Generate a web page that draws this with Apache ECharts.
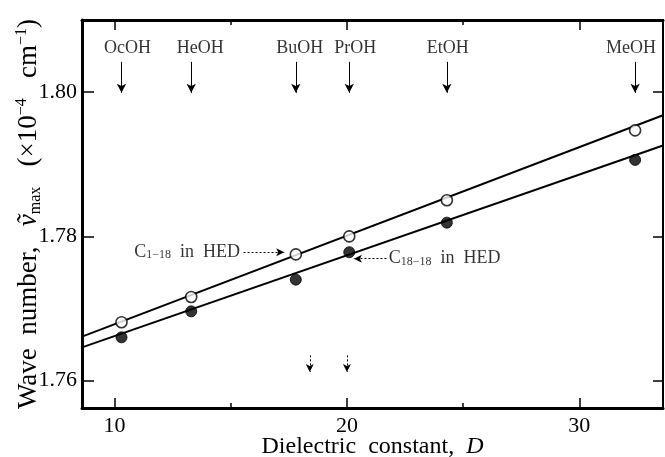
<!DOCTYPE html>
<html>
<head>
<meta charset="utf-8">
<script src="https://cdn.jsdelivr.net/npm/echarts@6/dist/echarts.min.js"></script>
<style>html,body{margin:0;padding:0;background:#fff;}#c{width:665px;height:457px;}</style>
</head>
<body>
<div id="c"></div>
<script>
// ---- data ----
const solvents = ['OcOH', 'HeOH', 'BuOH', 'PrOH', 'EtOH', 'MeOH'];
const dielectric = [10.3, 13.3, 17.8, 20.1, 24.3, 32.4];
const c1_18 = [1.7681, 1.7716, 1.7775, 1.7800, 1.7850, 1.7947];   // open circles
const c18_18 = [1.7660, 1.7696, 1.7740, 1.7778, 1.7819, 1.7906];  // filled circles
const fitC1_18 = [[8.6, 1.7661], [33.6, 1.7968]];
const fitC18_18 = [[8.6, 1.7646], [33.6, 1.7926]];
const xMajorTicks = [10, 20, 30];
const xMinorTicks = [15, 25];
const yTicks = [1.76, 1.78, 1.80];
const lowerArrowsD = [18.4, 20.0];
const xRange = [8.6, 33.6];
const yRange = [1.7562, 1.8100];

const FONT = 'Liberation Serif';
const chart = echarts.init(document.getElementById('c'), null, {renderer: 'canvas'});

function xAxisDef(pos, ticks, len, showLabel, lineW) {
  return {
    type: 'value', position: pos, min: xRange[0], max: xRange[1],
    splitLine: {show: false},
    axisLine: {show: lineW > 0, onZero: false, lineStyle: {color: '#000', width: lineW}},
    axisTick: {show: true, inside: true, length: len, customValues: ticks, lineStyle: {color: '#000', width: 1.5}},
    axisLabel: {show: showLabel, customValues: ticks, color: '#000', fontFamily: FONT, fontSize: 22, margin: 7},
  };
}
function yAxisDef(pos, len, showLabel, lineW) {
  return {
    type: 'value', position: pos, min: yRange[0], max: yRange[1],
    splitLine: {show: false},
    axisLine: {show: true, onZero: false, lineStyle: {color: '#000', width: lineW}},
    axisTick: {show: true, inside: true, length: len, customValues: yTicks, lineStyle: {color: '#000', width: 1.5}},
    axisLabel: {show: showLabel, customValues: yTicks, color: '#000', fontFamily: FONT, fontSize: 22, margin: 5,
      formatter: v => v.toFixed(2)},
  };
}

const xAxes = [
  xAxisDef('bottom', xMajorTicks, 10, true, 3),
  xAxisDef('bottom', xMinorTicks, 5, false, 0),
  xAxisDef('top', xMajorTicks, 10, false, 3),
  xAxisDef('top', xMinorTicks, 5, false, 0),
];
xAxes[0].name = '{a|Dielectric  constant,  }{i|D}';
xAxes[0].nameLocation = 'middle';
xAxes[0].nameGap = 27;
xAxes[0].nameMoveOverlap = false;
xAxes[0].nameTextStyle = {rich: {
  a: {fontFamily: FONT, fontSize: 24, color: '#000'},
  i: {fontFamily: FONT, fontSize: 24, fontStyle: 'italic', color: '#000'}
}};

const yAxes = [yAxisDef('left', 12, true, 3), yAxisDef('right', 10, false, 2)];
yAxes[0].name = '{a|Wave  number,   }{i|ṽ}{sub|max}{a|   (×10}{sup|−4}{a|   cm}{sup|−1}{a|)}';
yAxes[0].nameLocation = 'middle';
yAxes[0].nameRotate = 90;
yAxes[0].nameGap = 38;
yAxes[0].nameMoveOverlap = false;
yAxes[0].nameTextStyle = {rich: {
  a: {fontFamily: FONT, fontSize: 27, color: '#000', lineHeight: 30},
  i: {fontFamily: FONT, fontSize: 27, fontStyle: 'italic', color: '#000', lineHeight: 30},
  sub: {fontFamily: FONT, fontSize: 16, color: '#000', lineHeight: 14, verticalAlign: 'bottom'},
  sup: {fontFamily: FONT, fontSize: 16, color: '#000', lineHeight: 14, verticalAlign: 'top'}
}};

const textRich = {
  a: {fontFamily: FONT, fontSize: 18, color: '#000'},
  s: {fontFamily: FONT, fontSize: 12, color: '#000', verticalAlign: 'bottom', lineHeight: 12},
};

const solventArrows = dielectric.map(d => [
  {coord: [d, 1.8042]}, {coord: [d, 1.7999]}
]);
const lowerArrows = lowerArrowsD.map(d => [
  {coord: [d, 1.7635]}, {coord: [d, 1.7612]}
]);
const solventLabelShift = [6, 9, 4, 6, 1, -4];

chart.setOption({
  animation: false,
  backgroundColor: '#fff',
  grid: {left: 82, right: 2, top: 20, bottom: 49, show: true, borderColor: '#000', borderWidth: 2,
         outerBoundsMode: 'none', containLabel: false},
  xAxis: xAxes,
  yAxis: yAxes,
  series: [
    {type: 'line', data: fitC1_18, symbol: 'none', lineStyle: {color: '#000', width: 2}, z: 2, silent: true},
    {type: 'line', data: fitC18_18, symbol: 'none', lineStyle: {color: '#000', width: 2}, z: 2, silent: true},
    {
      name: 'C1-18 in HED', type: 'scatter', z: 5,
      data: dielectric.map((d, i) => [d, c1_18[i]]),
      symbol: 'circle', symbolSize: 11,
      itemStyle: {color: '#fff', borderColor: '#000', borderWidth: 1.6},
      markLine: {
        silent: true, symbol: ['none', 'arrow'], symbolSize: [7, 9],
        label: {show: false},
        lineStyle: {color: '#000', width: 1, type: 'solid'},
        data: solventArrows
      }
    },
    {
      name: 'C18-18 in HED', type: 'scatter', z: 5,
      data: dielectric.map((d, i) => [d, c18_18[i]]),
      symbol: 'circle', symbolSize: 11,
      itemStyle: {color: '#000', borderColor: '#000', borderWidth: 1},
      markLine: {
        silent: true, symbol: ['none', 'arrow'], symbolSize: [6, 8],
        label: {show: false},
        lineStyle: {color: '#000', width: 1, type: [2, 2]},
        data: lowerArrows.concat([
          [{coord: [15.55, 1.7778]}, {coord: [17.3, 1.7778]}],
          [{coord: [21.7, 1.7769]}, {coord: [20.3, 1.7769]}]
        ])
      }
    },
    {
      type: 'scatter', silent: true, symbolSize: 0, z: 6,
      data: dielectric.map((d, i) => ({value: [d, 1.8061], name: solvents[i],
        label: {offset: [solventLabelShift[i], 0]}})),
      label: {show: true, position: 'inside', formatter: p => p.name,
        fontFamily: FONT, fontSize: 18, color: '#000'}
    },
    {
      type: 'scatter', silent: true, symbolSize: 0, z: 6,
      data: [
        {value: [15.4, 1.7778], label: {position: 'left', formatter: '{a|C}{s|1−18}{a|  in  HED}'}},
        {value: [21.8, 1.7769], label: {position: 'right', formatter: '{a|C}{s|18−18}{a|  in  HED}'}}
      ],
      label: {show: true, distance: 0, rich: textRich}
    }
  ]
});
</script>
</body>
</html>
